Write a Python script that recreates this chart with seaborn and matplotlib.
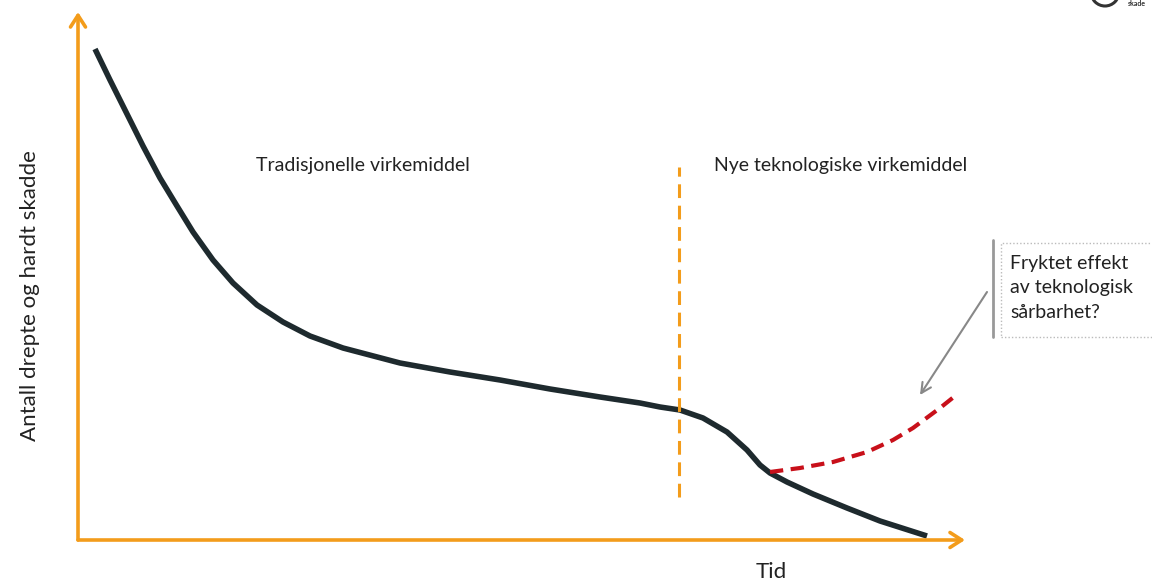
import matplotlib
matplotlib.use("Agg")
import matplotlib.pyplot as plt
import matplotlib.patches as mpatches
import seaborn as sns
import pandas as pd

# ---- data (arbitrary conceptual units) ----
time_main = [17, 32, 49, 65, 82, 99, 115, 135, 155, 179, 205, 232, 265, 322, 372, 422,
             472, 522, 562, 582, 602, 625, 649, 669, 682, 692, 709, 735, 769, 802, 849]
level_main = [491, 460, 426, 394, 362, 334, 308, 280, 257, 235, 218, 204, 192, 177, 168, 160,
              151, 143, 137, 133, 130, 122, 108, 90, 75, 67, 58, 46, 32, 19, 4]

time_risk = [692, 722, 755, 789, 815, 835, 862, 877]
level_risk = [68, 72, 78, 88, 100, 112, 132, 144]

split_time = 601
split_range = [43, 373]

label_left = "Tradisjonelle virkemiddel"
label_right = "Nye teknologiske virkemiddel"
label_box = "Fryktet effekt\nav teknologisk\nsårbarhet?"
xlabel = "Tid"
ylabel = "Antall drepte og hardt skadde"

sns.set_theme(style="white")
plt.rcParams["font.family"] = ["Lato", "DejaVu Sans"]

fig = plt.figure(figsize=(11.52, 5.81), dpi=100)
ax = fig.add_axes([0, 0, 1, 1])
ax.set_xlim(-78, 1074)
ax.set_ylim(-41, 540)
ax.axis("off")

orange = "#F39C1B"
dark = "#1E2A2E"
red = "#C8101A"

df_main = pd.DataFrame({"t": time_main, "y": level_main})
df_risk = pd.DataFrame({"t": time_risk, "y": level_risk})

sns.lineplot(data=df_main, x="t", y="y", ax=ax, color=dark, lw=4, sort=False,
             solid_capstyle="butt", solid_joinstyle="round")
sns.lineplot(data=df_risk, x="t", y="y", ax=ax, color=red, lw=3, sort=False,
             linestyle=(0, (3.2, 1.8)))

# vertical split
ax.plot([split_time, split_time], split_range, color=orange, lw=2.2,
        linestyle=(0, (4.5, 2.5)))

# axes arrows
ax.annotate("", xy=(0, 528), xytext=(0, 0),
            arrowprops=dict(arrowstyle="->,head_length=0.7,head_width=0.45",
                            color=orange, lw=2.6, shrinkA=0, shrinkB=0))
ax.annotate("", xy=(887, 0), xytext=(0, 0),
            arrowprops=dict(arrowstyle="->,head_length=0.7,head_width=0.45",
                            color=orange, lw=2.6, shrinkA=0, shrinkB=0))

# texts
ax.text(285, 374, label_left, ha="center", va="center", fontsize=14, color="#222222")
ax.text(763, 374, label_right, ha="center", va="center", fontsize=14, color="#222222")
ax.text(693, -32, xlabel, ha="center", va="center", fontsize=16, color="#222222")
ax.text(-48, 244, ylabel, ha="center", va="center", rotation=90, fontsize=16, color="#222222")

# callout box
ax.plot([915, 915], [203, 300], color="#999999", lw=2)
box = mpatches.Rectangle((923, 203), 160, 94, fill=False, edgecolor="#BBBBBB",
                         lw=1, linestyle=(0, (1, 1.5)))
ax.add_patch(box)
ax.text(932, 252, label_box, ha="left", va="center", fontsize=14,
        color="#222222", linespacing=1.55)
ax.annotate("", xy=(842, 145), xytext=(909, 248),
            arrowprops=dict(arrowstyle="->,head_length=0.6,head_width=0.3",
                            color="#888888", lw=1.5, shrinkA=0, shrinkB=0))

# logo fragment top right
logo = mpatches.Circle((1027, 548), 14, fill=False, edgecolor="#333333", lw=2.2)
ax.add_patch(logo)
ax.text(1050, 537, "skade", fontsize=5, color="#333333", ha="left", va="center",
        fontweight="bold")

fig.savefig("out.png", dpi=100)
